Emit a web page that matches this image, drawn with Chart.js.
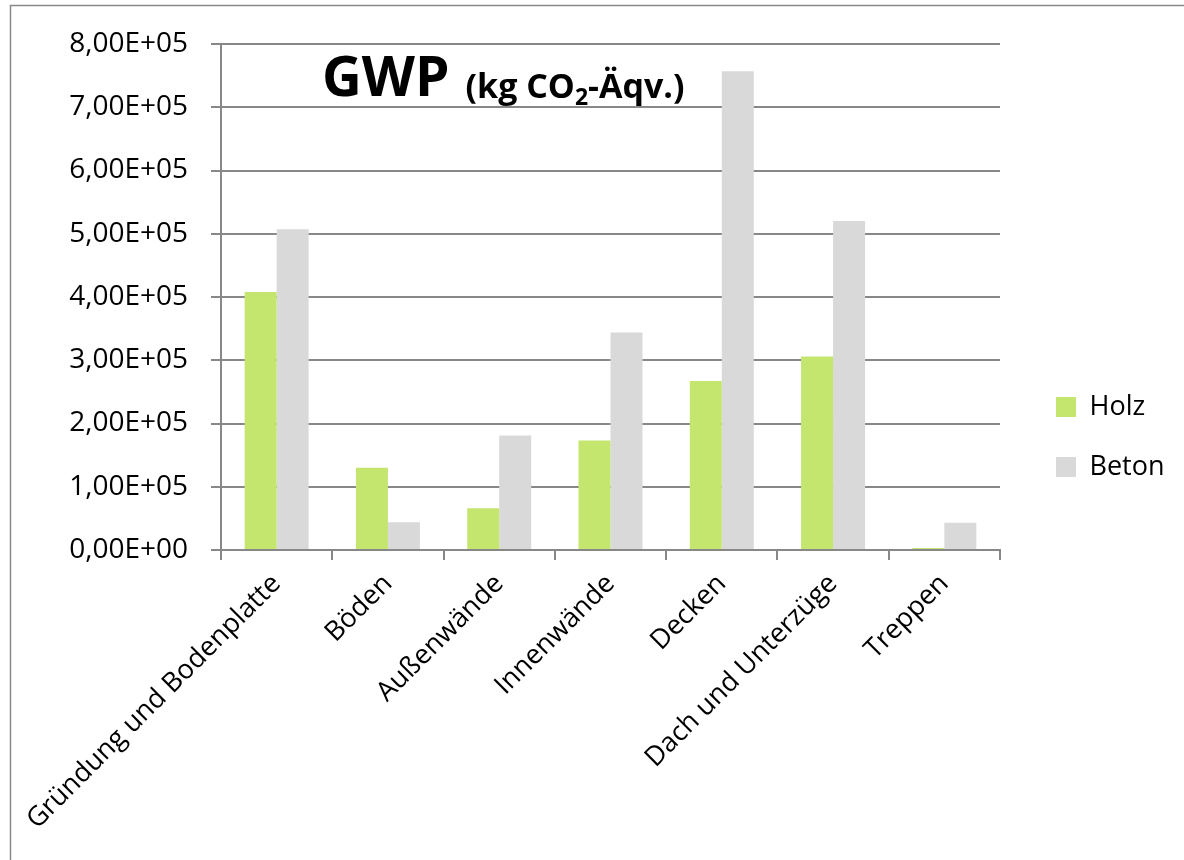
<!DOCTYPE html>
<html>
<head>
<meta charset="utf-8">
<script src="https://cdn.jsdelivr.net/npm/chart.js@4.4.1/dist/chart.umd.min.js"></script>
<style>
  html, body { margin: 0; padding: 0; background: #ffffff; }
  canvas { display: block; }
</style>
</head>
<body>
<canvas id="gwp" width="1184" height="860"></canvas>
<script>
// Building components
const categories = [
  'Gründung und Bodenplatte',
  'Böden',
  'Außenwände',
  'Innenwände',
  'Decken',
  'Dach und Unterzüge',
  'Treppen'
];

// GWP per component, kg CO2-equivalent
const holz  = [408000, 130000, 66000, 173000, 267000, 306000, 3000];
const beton = [507000, 44000, 181000, 344000, 757000, 520000, 43000];

const seriesNames = ['Holz', 'Beton'];

const yTickLabels = [
  '0,00E+00', '1,00E+05', '2,00E+05', '3,00E+05', '4,00E+05',
  '5,00E+05', '6,00E+05', '7,00E+05', '8,00E+05'
];

const titleMain = 'GWP';
const titleUnitPre = '(kg CO';
const titleUnitSub = '2';
const titleUnitPost = '-Äqv.)';

// Styling
const FONT = '"Open Sans", Lato, "DejaVu Sans", sans-serif';
const AXIS_GREY = '#888888';
const GREEN = '#c4e66f';
const GREY = '#d9d9d9';

const CANVAS_W = 1184;
const PLOT_LEFT = 221;
const PLOT_RIGHT = 1000;
const PLOT_TOP = 44;
const PLOT_BOTTOM = 550;
const BOTTOM_PAD = 30;

const LEGEND_FONT_SIZE = 27;
const LEGEND_PAD = 33;
const LEGEND_BOX = 20;
const LEGEND_BOX_X = 1056;

// Work out the legend width so the plot ends at PLOT_RIGHT and the legend boxes sit at LEGEND_BOX_X
const measureCtx = document.createElement('canvas').getContext('2d');
measureCtx.font = `${LEGEND_FONT_SIZE}px ${FONT}`;
const legendTextW = Math.max(...seriesNames.map(n => measureCtx.measureText(n).width));
const legendWidth = LEGEND_PAD + LEGEND_BOX + LEGEND_FONT_SIZE / 2 + legendTextW + 10;
const legendGap = LEGEND_BOX_X - LEGEND_PAD - PLOT_RIGHT;
const rightPad = Math.max(0, CANVAS_W - PLOT_RIGHT - legendGap - legendWidth);

// White page with the thin grey frame around the chart
const framePlugin = {
  id: 'frame',
  beforeDraw(chart) {
    const ctx = chart.ctx;
    ctx.save();
    ctx.fillStyle = '#ffffff';
    ctx.fillRect(0, 0, chart.width, chart.height);
    ctx.strokeStyle = AXIS_GREY;
    ctx.lineWidth = 1.5;
    ctx.strokeRect(10.5, 5.5, chart.width + 20, chart.height + 20);
    ctx.restore();
  }
};

// Heading inside the plot area with a subscript in the unit
const headingPlugin = {
  id: 'heading',
  afterDraw(chart) {
    const ctx = chart.ctx;
    const area = chart.chartArea;
    ctx.save();
    ctx.fillStyle = '#000000';
    ctx.textAlign = 'left';
    ctx.textBaseline = 'alphabetic';
    const x0 = area.left + 101;
    const base = area.top + 52;
    ctx.font = `bold 55px ${FONT}`;
    ctx.fillText(titleMain, x0, base);
    let x = x0 + ctx.measureText(titleMain).width + 16;
    ctx.font = `bold 34px ${FONT}`;
    ctx.fillText(titleUnitPre, x, base + 2);
    x += ctx.measureText(titleUnitPre).width;
    ctx.font = `bold 23px ${FONT}`;
    ctx.fillText(titleUnitSub, x, base + 9);
    x += ctx.measureText(titleUnitSub).width;
    ctx.font = `bold 34px ${FONT}`;
    ctx.fillText(titleUnitPost, x, base + 2);
    ctx.restore();
  }
};

new Chart(document.getElementById('gwp'), {
  type: 'bar',
  data: {
    labels: categories,
    datasets: [
      {
        label: seriesNames[0],
        data: holz,
        backgroundColor: GREEN,
        borderWidth: 0,
        categoryPercentage: 0.575,
        barPercentage: 1.0
      },
      {
        label: seriesNames[1],
        data: beton,
        backgroundColor: GREY,
        borderWidth: 0,
        categoryPercentage: 0.575,
        barPercentage: 1.0
      }
    ]
  },
  options: {
    responsive: false,
    animation: false,
    events: [],
    layout: {
      padding: { top: PLOT_TOP, bottom: BOTTOM_PAD, left: 0, right: rightPad }
    },
    plugins: {
      title: { display: false },
      tooltip: { enabled: false },
      legend: {
        display: true,
        position: 'right',
        align: 'center',
        labels: {
          boxWidth: LEGEND_BOX,
          boxHeight: LEGEND_BOX,
          padding: LEGEND_PAD,
          color: '#000000',
          font: { family: FONT, size: LEGEND_FONT_SIZE }
        }
      }
    },
    scales: {
      x: {
        offset: true,
        grid: {
          display: true,
          offset: true,
          drawOnChartArea: false,
          drawTicks: true,
          tickLength: 10,
          color: AXIS_GREY,
          lineWidth: 2
        },
        border: { display: true, color: AXIS_GREY, width: 2 },
        ticks: {
          color: '#000000',
          font: { family: FONT, size: 27 },
          minRotation: 45,
          maxRotation: 45,
          autoSkip: false,
          padding: 8
        },
        afterFit(scale) {
          scale.height = scale.chart.height - BOTTOM_PAD - PLOT_BOTTOM;
        }
      },
      y: {
        min: 0,
        max: 800000,
        ticks: {
          stepSize: 100000,
          color: '#000000',
          font: { family: FONT, size: 28 },
          padding: 23,
          callback: (value, index) => yTickLabels[index]
        },
        grid: {
          color: AXIS_GREY,
          lineWidth: 2,
          drawTicks: true,
          tickLength: 10
        },
        border: { display: true, color: AXIS_GREY, width: 2 },
        afterFit(scale) {
          scale.width = PLOT_LEFT;
        }
      },
      gap: {
        axis: 'y',
        type: 'linear',
        position: 'right',
        display: true,
        grid: { display: false, drawTicks: false },
        border: { display: false },
        ticks: { display: false },
        afterFit(scale) {
          scale.width = legendGap;
        }
      }
    }
  },
  plugins: [framePlugin, headingPlugin]
});
</script>
</body>
</html>
